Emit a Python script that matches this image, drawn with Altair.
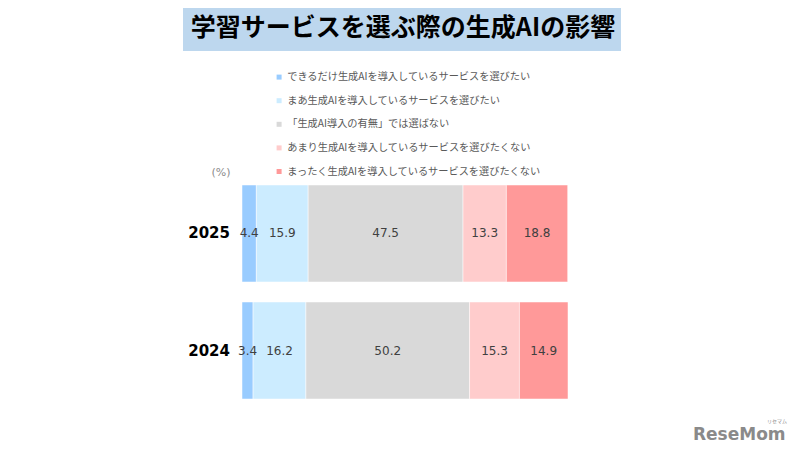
import altair as alt
import pandas as pd

# ---- data ----
years = ["2025", "2024"]
categories = [
    "できるだけ生成AIを導入しているサービスを選びたい",
    "まあ生成AIを導入しているサービスを選びたい",
    "「生成AI導入の有無」では選ばない",
    "あまり生成AIを導入しているサービスを選びたくない",
    "まったく生成AIを導入しているサービスを選びたくない",
]
values_2025 = [4.4, 15.9, 47.5, 13.3, 18.8]
values_2024 = [3.4, 16.2, 50.2, 15.3, 14.9]
colors = ["#99CCFF", "#CCECFF", "#D9D9D9", "#FFCCCC", "#FF9999"]
title_text = "学習サービスを選ぶ際の生成AIの影響"

rows = []
for yr, vals in zip(years, [values_2025, values_2024]):
    for i, (c, v) in enumerate(zip(categories, vals)):
        rows.append({"year": yr, "category": c, "value": v, "order": i})
df = pd.DataFrame(rows)

FONT_JP = "Noto Sans CJK JP"
FONT_NUM = "DejaVu Sans"

x_scale = alt.Scale(domain=[0, 100], range=[234, 560])
y_scale = alt.Scale(domain=years, range=[177, 391], paddingInner=0.171, paddingOuter=0)

base = alt.Chart(df)

bars = base.mark_bar(stroke="white", strokeWidth=0.5).encode(
    x=alt.X("value:Q", stack="zero", scale=x_scale, axis=None),
    y=alt.Y("year:N", scale=y_scale, axis=None),
    color=alt.Color(
        "category:N",
        scale=alt.Scale(domain=categories, range=colors),
        sort=categories,
        legend=alt.Legend(
            title=None,
            orient="none",
            legendX=266,
            legendY=64,
            direction="vertical",
            symbolType="square",
            symbolSize=25,
            symbolStrokeWidth=0,
            labelFont=FONT_JP,
            labelFontSize=10.2,
            labelColor="#595959",
            labelOffset=3,
            rowPadding=12.6,
            padding=0,
            labelLimit=400,
        ),
    ),
    order=alt.Order("order:Q"),
)

labels = (
    base.transform_stack(
        stack="value", groupby=["year"], as_=["v0", "v1"], sort=[alt.SortField("order")]
    )
    .transform_calculate(mid="(datum.v0 + datum.v1) / 2")
    .mark_text(font=FONT_NUM, fontSize=12, color="#404040")
    .encode(
        x=alt.X("mid:Q", scale=x_scale, axis=None),
        y=alt.Y("year:N", scale=y_scale, axis=None),
        text=alt.Text("value:Q", format=".1f"),
    )
)

year_df = pd.DataFrame({"year": years})
year_labels = (
    alt.Chart(year_df)
    .mark_text(font=FONT_NUM, fontSize=15, fontWeight="bold", color="#000000", align="right")
    .encode(
        x=alt.value(222),
        y=alt.Y("year:N", scale=y_scale, axis=None),
        text="year:N",
    )
)

one = alt.Data(values=[{"a": 1}])

title_box = alt.Chart(one).mark_rect(color="#BDD7EE").encode(
    x=alt.value(175), x2=alt.value(613), y=alt.value(0), y2=alt.value(43)
)
title = alt.Chart(one).mark_text(
    font=FONT_JP, fontSize=25, fontWeight="bold", color="#000000", baseline="middle"
).encode(x=alt.value(395), y=alt.value(20), text=alt.value(title_text))

pct = alt.Chart(one).mark_text(
    font=FONT_NUM, fontSize=11, color="#8C8C8C", baseline="middle"
).encode(x=alt.value(213), y=alt.value(165), text=alt.value("(%)"))

logo = alt.Chart(one).mark_text(
    font=FONT_NUM, fontSize=17, fontWeight="bold", color="#8A8A8A", baseline="middle", align="left"
).encode(x=alt.value(685), y=alt.value(427), text=alt.value("ReseMom"))
logo_small = alt.Chart(one).mark_text(
    font=FONT_JP, fontSize=5, color="#8A8A8A", baseline="middle", align="left"
).encode(x=alt.value(759), y=alt.value(413), text=alt.value("リセマム"))

chart = (
    alt.layer(title_box, title, bars, labels, year_labels, pct, logo, logo_small)
    .properties(width=784, height=440, padding=0, autosize=alt.AutoSizeParams(type="none"))
    .configure_view(stroke=None)
)

chart.save("out.html", embed_options={"renderer": "svg", "actions": False})
